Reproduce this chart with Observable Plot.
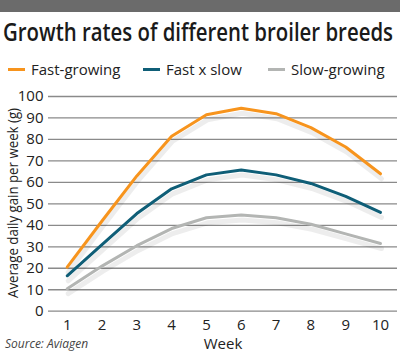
<!DOCTYPE html>
<html><head><meta charset="utf-8">
<script src="https://cdn.jsdelivr.net/npm/d3@7"></script>
<script src="https://cdn.jsdelivr.net/npm/@observablehq/plot@0.6"></script>
<style>
body{margin:0;background:#fff;font-family:"Open Sans",sans-serif;}
#wrap{position:relative;width:400px;height:353px;overflow:hidden;}
#bar{position:absolute;left:0;top:0;width:400px;height:12px;background:#6b6b6b;}
#title{position:absolute;left:3px;top:13px;font-size:26px;font-weight:600;color:#1a1a1a;white-space:nowrap;transform-origin:0 0;}
.leg{position:absolute;top:59px;font-size:15px;color:#222;white-space:nowrap;}
.sw{display:inline-block;width:17px;height:3px;vertical-align:middle;margin-right:6px;position:relative;top:-1px;}
#source{position:absolute;left:5px;top:335px;font-size:12px;font-style:italic;color:#444;}
#ylab{position:absolute;left:12px;top:203px;transform:translate(-50%,-50%) rotate(-90deg);font-size:15px;color:#222;white-space:nowrap;}
#chart{position:absolute;left:0;top:85px;}
</style></head>
<body><div id="wrap">
<div id="bar"></div>
<div id="title">Growth rates of different broiler breeds</div>
<div id="legend"></div>
<div id="ylab">Average daily gain per week (g)</div>
<div id="chart"></div>
<div id="source">Source: Aviagen</div>
</div>
<script>
const weeks = [1,2,3,4,5,6,7,8,9,10];
const seriesNames = ["Fast-growing","Fast x slow","Slow-growing"];
const seriesColors = ["#f7941d","#0f5e77","#b3b5b3"];
const fastGrowing = [20.5,42,63,81.5,91.5,94.5,92,85.5,76.5,64];
const fastXSlow = [16.5,31,45.5,57,63.5,65.8,63.5,59.5,53.5,46];
const slowGrowing = [10.5,21,30.5,38.5,43.5,44.8,43.5,40.5,36,31.5];
const yTicks = [0,10,20,30,40,50,60,70,80,90,100];
const xLabel = "Week";

// fit title width
const t = document.getElementById("title");
const tw = t.getBoundingClientRect().width;
t.style.transform = `scaleX(${390/tw})`;
// fit y label length
const yl = document.getElementById("ylab");
const yw = yl.getBoundingClientRect().height;
yl.style.transform = `translate(-50%,-50%) rotate(-90deg) scaleX(${190/yw})`;

const legend = document.getElementById("legend");
const legX = [8,143,268];
seriesNames.forEach((n,i)=>{
  const d=document.createElement("div");d.className="leg";d.style.left=legX[i]+"px";
  d.innerHTML=`<span class="sw" style="background:${seriesColors[i]}"></span>${n}`;
  legend.appendChild(d);
});

const all = [fastGrowing,fastXSlow,slowGrowing];
const data = [];
all.forEach((vals,si)=>vals.forEach((v,i)=>data.push({week:weeks[i],value:v,series:seriesNames[si]})));

const chart = Plot.plot({
  width:400,height:268,
  marginTop:11,marginBottom:42.3,marginLeft:48,marginRight:3,
  insetLeft:18.7,insetRight:17,
  style:{fontFamily:"Open Sans, sans-serif",fontSize:"15px",color:"#222",background:"transparent"},
  x:{domain:[1,10],ticks:weeks,tickSize:0,tickPadding:8,label:null,tickFormat:d=>d},
  y:{domain:[0,100],ticks:yTicks,tickSize:0,tickPadding:5,label:null},
  color:{domain:seriesNames,range:seriesColors},
  marks:[
    Plot.ruleY(yTicks,{stroke:"#8a8a8a",strokeWidth:1.3}),
    Plot.line(data,{x:"week",y:"value",z:"series",stroke:"#000",strokeWidth:5,strokeOpacity:0.07,dx:1,dy:5,style:"filter:blur(3px)"}),
    Plot.line(data,{x:"week",y:"value",stroke:"series",strokeWidth:3}),
    Plot.text([xLabel],{frameAnchor:"bottom",dy:38,fontSize:15,text:d=>d,fill:"#222"})
  ]
});
document.getElementById("chart").appendChild(chart);
</script>
</body></html>
